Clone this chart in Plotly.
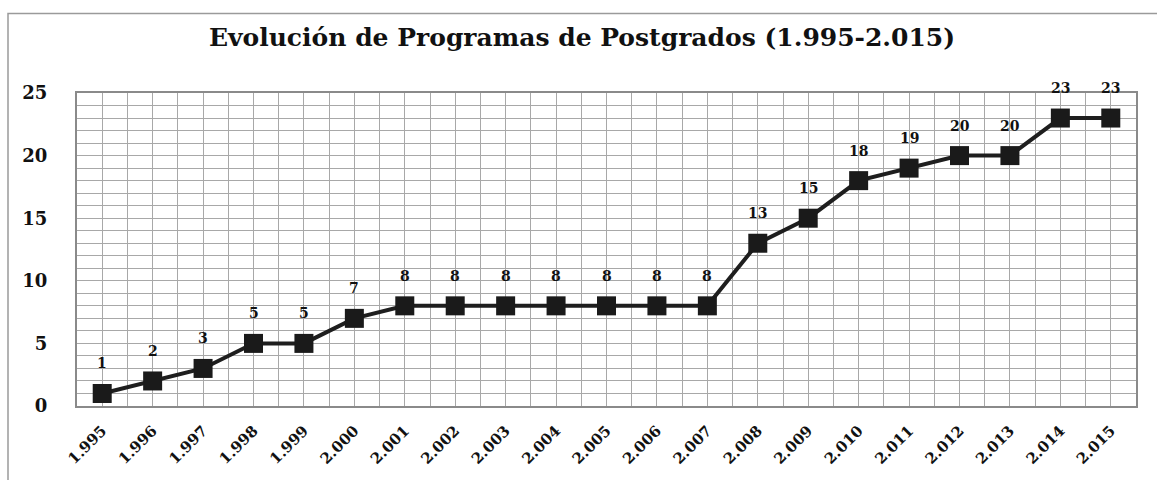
import plotly.graph_objects as go

years = ["1.995", "1.996", "1.997", "1.998", "1.999", "2.000", "2.001", "2.002",
         "2.003", "2.004", "2.005", "2.006", "2.007", "2.008", "2.009", "2.010",
         "2.011", "2.012", "2.013", "2.014", "2.015"]
programas = [1, 2, 3, 5, 5, 7, 8, 8, 8, 8, 8, 8, 8, 13, 15, 18, 19, 20, 20, 23, 23]
y_ticks = [0, 5, 10, 15, 20, 25]

xs = list(range(len(years)))
SERIF = "DejaVu Serif, Liberation Serif, serif"

fig = go.Figure()
fig.add_trace(go.Scatter(
    x=xs, y=programas, mode="lines+markers",
    line=dict(color="#1e1e1e", width=4),
    marker=dict(symbol="square", size=19, color="#1a1a1a"),
    hoverinfo="skip", showlegend=False,
))

for xi, v in zip(xs, programas):
    fig.add_annotation(x=xi, y=v, text=f"<b>{v}</b>", showarrow=False,
                       yshift=30, font=dict(family=SERIF, size=14, color="#111"))

fig.update_layout(
    width=1157, height=480,
    margin=dict(l=77, r=21, t=93, b=72),
    paper_bgcolor="white", plot_bgcolor="white",
    title=dict(text="<b>Evolución de Programas de Postgrados (1.995-2.015)</b>",
               x=(582) / 1157, xanchor="center", y=1 - 37 / 480, yanchor="middle",
               yref="container",
               font=dict(family=SERIF, size=25, color="#111")),
    font=dict(family=SERIF, color="#111"),
)

fig.update_xaxes(
    range=[-0.5, 20.5], tickmode="array", tickvals=xs, ticktext=[f"<b>{t}</b>" for t in years],
    tickangle=-45, tickfont=dict(family=SERIF, size=15, color="#111"),
    showgrid=True, gridcolor="#a8a8a8", gridwidth=1,
    minor=dict(dtick=0.5, tick0=-0.5, showgrid=True, gridcolor="#a8a8a8", gridwidth=1),
    showline=True, linecolor="#8a8a8a", linewidth=2, mirror=True,
    ticks="", ticklabelstandoff=8, zeroline=False, fixedrange=True,
)
fig.update_yaxes(
    range=[0, 25], tickmode="array", tickvals=y_ticks, ticktext=[f"<b>{t}</b>" for t in y_ticks],
    tickfont=dict(family=SERIF, size=18, color="#111"),
    showgrid=True, gridcolor="#a8a8a8", gridwidth=1,
    minor=dict(dtick=1, tick0=0, showgrid=True, gridcolor="#a8a8a8", gridwidth=1),
    showline=True, linecolor="#8a8a8a", linewidth=2, mirror=True,
    ticks="", ticklabelstandoff=24, zeroline=False, fixedrange=True,
)

# outer frame of the chart area
fig.add_shape(type="rect", xref="paper", yref="paper",
              x0=(8 - 77) / 1059, x1=(1165 - 77) / 1059,
              y0=(408 - 490) / 315, y1=(408 - 13) / 315,
              line=dict(color="#9a9a9a", width=1.5), layer="below")

fig.write_html("out.html", config={"displayModeBar": False},
               post_script="document.body.style.margin='0';")
